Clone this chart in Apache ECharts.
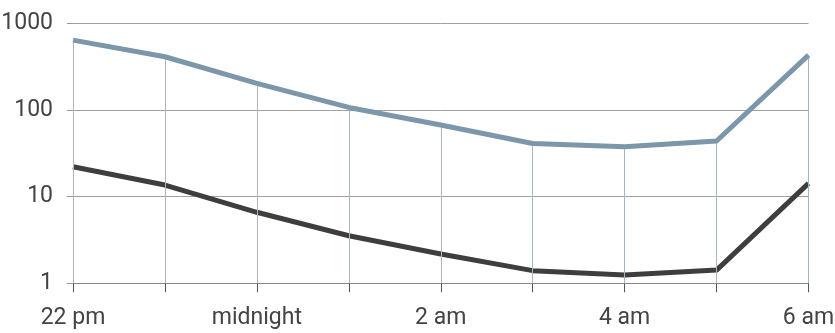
<!DOCTYPE html>
<html>
<head>
<meta charset="utf-8">
<script src="https://cdn.jsdelivr.net/npm/echarts@6/dist/echarts.min.js"></script>
<style>
html,body{margin:0;padding:0;background:#fff;}
#chart{width:835px;height:333px;}
</style>
</head>
<body>
<div id="chart"></div>
<script>
var categories = ['22 pm', '11 pm', 'midnight', '1 am', '2 am', '3 am', '4 am', '5 am', '6 am'];
var upperValues = [640, 411, 203, 107, 67, 41, 37.7, 43.8, 430];
var lowerValues = [22.1, 13.6, 6.6, 3.54, 2.18, 1.40, 1.25, 1.42, 14.2];
var yTicks = [1, 10, 100, 1000];

var chart = echarts.init(document.getElementById('chart'), null, {renderer: 'canvas'});
var dropLines = categories.map(function (c, i) {
  return [{coord: [c, yTicks[0]]}, {coord: [c, upperValues[i]]}];
});
chart.setOption({
  animation: false,
  textStyle: {fontFamily: 'Roboto'},
  grid: {left: 73, right: 26.5, top: 23.3, bottom: 49.7, containLabel: false, outerBoundsMode: 'none'},
  xAxis: {
    type: 'category',
    data: categories,
    boundaryGap: false,
    axisLine: {show: true, lineStyle: {color: '#8a8a8a', width: 1}},
    axisTick: {show: true, interval: 0, length: 9, lineStyle: {color: '#555'}},
    axisLabel: {interval: 1, fontSize: 23, color: '#444', margin: 23, fontFamily: 'Roboto', hideOverlap: false},
    splitLine: {show: false}
  },
  yAxis: {
    type: 'log',
    logBase: 10,
    min: yTicks[0],
    max: yTicks[yTicks.length - 1],
    axisLine: {show: false},
    axisTick: {show: true, length: 6, lineStyle: {color: '#999'}},
    axisLabel: {fontSize: 23, color: '#444', margin: 20, fontFamily: 'Roboto',
      formatter: function (v) { return String(Math.round(v)); }},
    splitLine: {show: true, lineStyle: {color: '#a0a0a0', width: 1}},
    minorTick: {show: false}
  },
  series: [
    {
      type: 'line',
      data: lowerValues,
      symbol: 'none',
      lineStyle: {color: '#3e3e3e', width: 5, join: 'round'},
      z: 3
    },
    {
      type: 'line',
      data: [],
      symbol: 'none',
      z: 4,
      markLine: {
        silent: true,
        symbol: ['none', 'none'],
        label: {show: false},
        lineStyle: {color: '#a6b8c7', width: 1, type: 'solid'},
        emphasis: {disabled: true},
        data: dropLines
      }
    },
    {
      type: 'line',
      data: upperValues,
      symbol: 'none',
      lineStyle: {color: '#7c97aa', width: 5, join: 'round'},
      z: 5
    }
  ]
});
</script>
</body>
</html>
